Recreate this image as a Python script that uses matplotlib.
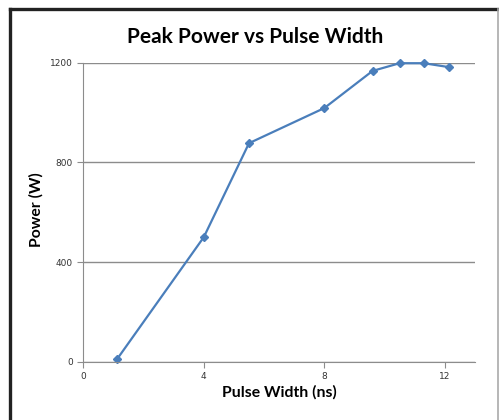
import matplotlib
matplotlib.use("Agg")
import matplotlib.pyplot as plt
from matplotlib.lines import Line2D

# data
pulse_width = [1.12, 4.0, 5.5, 8.0, 9.6, 10.5, 11.3, 12.15]
peak_power = [10, 500, 877, 1018, 1167, 1198, 1198, 1182]
x_ticks = [0, 4, 8, 12]
y_ticks = [0, 400, 800, 1200]

fig = plt.figure(figsize=(4.99, 4.2), dpi=100)
ax = fig.add_axes([0.1669, 0.1388, 0.785, 0.7119])

ax.plot(pulse_width, peak_power, color='#4A7EBB', linewidth=1.6,
        marker='D', markersize=4.5, markeredgecolor='#4A7EBB', clip_on=False)

ax.set_xlim(0, 13)
ax.set_ylim(0, 1200)
ax.set_xticks(x_ticks)
ax.set_yticks(y_ticks)
ax.grid(axis='y', color='#8c8c8c', linewidth=1)
ax.set_axisbelow(True)

for side in ['top', 'right']:
    ax.spines[side].set_visible(False)
for side in ['left', 'bottom']:
    ax.spines[side].set_color('#8c8c8c')
ax.tick_params(direction='out', length=4, color='#8c8c8c',
               labelsize=6.5, labelcolor='#333333')

# title and axis labels placed like the original
fig.text(255 / 499, 1 - 37 / 420, 'Peak Power vs Pulse Width', family='Lato',
         fontweight='bold', fontsize=15, ha='center', va='center')
fig.text(279.5 / 499, 1 - 392 / 420, 'Pulse Width (ns)', family='Lato',
         fontweight='bold', fontsize=11.3, ha='center', va='center')
fig.text(36 / 499, 1 - 210 / 420, 'Power (W)', family='Lato',
         fontweight='bold', fontsize=11.3, rotation=90,
         ha='center', va='center')

# outer frame of the chart area
fig.add_artist(Line2D([0.0198, 0.0198], [0, 0.979], color='#222222',
                      linewidth=2.4, transform=fig.transFigure))
fig.add_artist(Line2D([0.0198, 0.998], [0.979, 0.979], color='#222222',
                      linewidth=2.4, transform=fig.transFigure))
fig.add_artist(Line2D([0.998, 0.998], [0, 0.979], color='#aaaaaa',
                      linewidth=1.2, transform=fig.transFigure))

fig.savefig('out.png', dpi=100)
